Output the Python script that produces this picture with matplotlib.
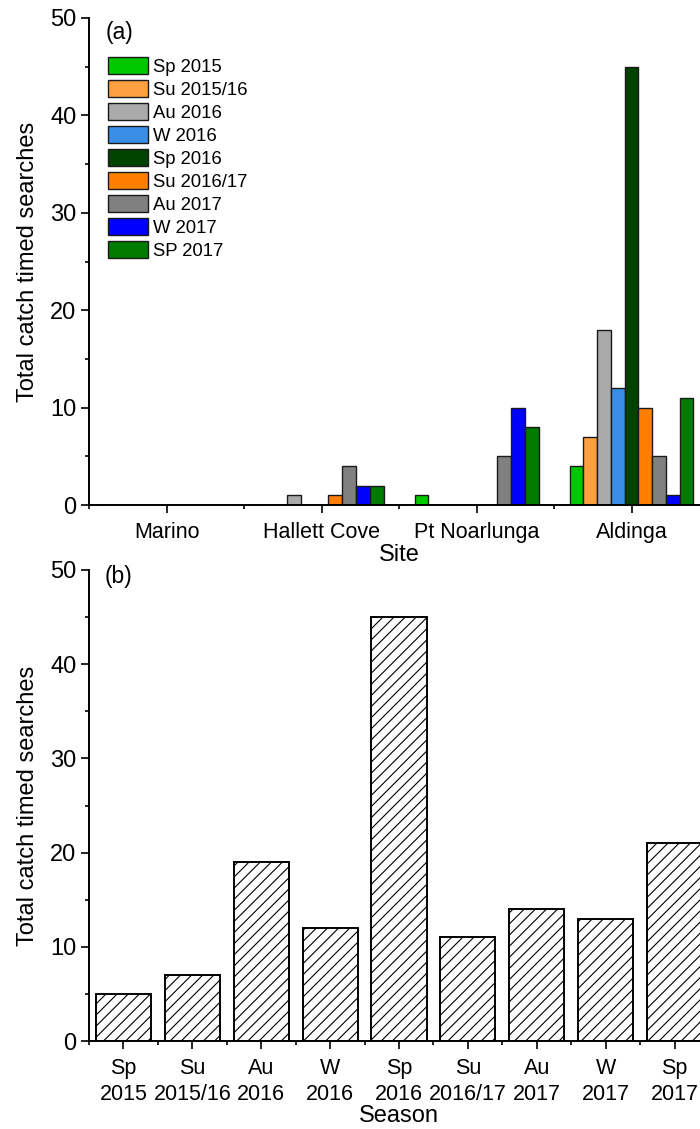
import matplotlib
matplotlib.use("Agg")
import matplotlib.pyplot as plt
import numpy as np

plt.rcParams['font.family'] = ['Liberation Sans', 'DejaVu Sans']
plt.rcParams['hatch.linewidth'] = 0.8

# Sites and seasons
sites = ["Marino", "Hallett Cove", "Pt Noarlunga", "Aldinga"]
seasons = ["Sp 2015", "Su 2015/16", "Au 2016", "W 2016", "Sp 2016",
           "Su 2016/17", "Au 2017", "W 2017", "SP 2017"]
season_ticks = ["Sp\n2015", "Su\n2015/16", "Au\n2016", "W\n2016", "Sp\n2016",
                "Su\n2016/17", "Au\n2017", "W\n2017", "Sp\n2017"]
season_colors = ["#00C800", "#FFA040", "#AAAAAA", "#3A8EE6", "#004200",
                 "#FF8000", "#808080", "#0000FF", "#007A00"]

# Catch per site (rows) and season (columns)
marino = [0, 0, 0, 0, 0, 0, 0, 0, 0]
hallett_cove = [0, 0, 1, 0, 0, 1, 4, 2, 2]
pt_noarlunga = [1, 0, 0, 0, 0, 0, 5, 10, 8]
aldinga = [4, 7, 18, 12, 45, 10, 5, 1, 11]

# Total catch per season
season_totals = [5, 7, 19, 12, 45, 11, 14, 13, 21]

catch = np.array([marino, hallett_cove, pt_noarlunga, aldinga])

W, H = 700, 1129
fig = plt.figure(figsize=(W / 100, H / 100), dpi=100)

ax_a = fig.add_axes([89 / W, 1 - 505 / H, 620 / W, 487 / H])
ax_b = fig.add_axes([89 / W, 1 - 1041 / H, 620 / W, 471 / H])

xtick_fs = 15.5
ytick_fs = 17
label_fs = 17

def style_axes(ax):
    for s in ("top", "right"):
        ax.spines[s].set_visible(False)
    for s in ("left", "bottom"):
        ax.spines[s].set_linewidth(1.4)
    ax.tick_params(which="major", direction="out", length=6, width=1.2, pad=3)
    ax.tick_params(which="minor", direction="out", length=3, width=1.2)
    ax.tick_params(axis="x", which="major", labelsize=xtick_fs, pad=6)
    ax.tick_params(axis="y", which="major", labelsize=ytick_fs)
    ax.set_ylim(0, 50)
    ax.set_yticks(np.arange(0, 51, 10))
    ax.set_yticks(np.arange(5, 50, 10), minor=True)

# (a) catch by site, grouped by season
n = len(seasons)
group_w = 0.8
bw = group_w / n
x_sites = np.arange(1, len(sites) + 1)
for j, (name, col) in enumerate(zip(seasons, season_colors)):
    offs = (j - (n - 1) / 2) * bw
    vals = catch[:, j]
    ax_a.bar(x_sites + offs, vals, width=bw, color=col, edgecolor="#1a1a1a",
             linewidth=1.0, label=name)

style_axes(ax_a)
ax_a.set_xlim(0.5, len(sites) + 0.5)
ax_a.set_xticks(x_sites)
ax_a.set_xticklabels(sites)
ax_a.set_xticks(np.arange(0.5, len(sites) + 0.6, 1), minor=True)
ax_a.set_xlabel("Site", fontsize=label_fs, labelpad=1)
ax_a.set_ylabel("Total catch timed searches", fontsize=label_fs, labelpad=8)
ax_a.text(106 / W, 1 - 32 / H, "(a)", transform=fig.transFigure,
          fontsize=16.5, va="center", ha="left")

leg = ax_a.legend(loc="upper left", bbox_to_anchor=(108 / W, 1 - 57 / H),
                  bbox_transform=fig.transFigure, frameon=False,
                  fontsize=13.3, handlelength=2.15, handleheight=1.0,
                  labelspacing=0.24, handletextpad=0.3, borderpad=0,
                  borderaxespad=0)

# (b) total catch by season
x_seasons = np.arange(1, n + 1)
ax_b.bar(x_seasons, season_totals, width=0.8, color="white",
         edgecolor="black", linewidth=1.4, hatch="///")
style_axes(ax_b)
ax_b.set_xlim(0.5, n + 0.5)
ax_b.set_xticks(x_seasons)
ax_b.set_xticklabels(season_ticks, linespacing=1.35)
ax_b.set_xticks(np.arange(0.5, n + 0.6, 1), minor=True)
ax_b.set_xlabel("Season", fontsize=label_fs, labelpad=0)
ax_b.set_ylabel("Total catch timed searches", fontsize=label_fs, labelpad=8)
ax_b.text(105 / W, 1 - 577 / H, "(b)", transform=fig.transFigure,
          fontsize=16.5, va="center", ha="left")

fig.savefig("out.png", dpi=100)
